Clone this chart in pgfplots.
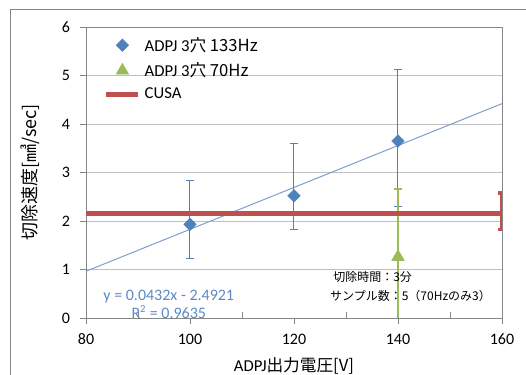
\documentclass[border=0pt]{standalone}
\usepackage{fontspec}
\setmainfont{Carlito}
\newfontfamily\jp{Noto Sans CJK JP}
\usepackage{pgfplots}
\pgfplotsset{compat=1.18}
\definecolor{xblue}{HTML}{4F81BD}
\definecolor{xgreen}{HTML}{9BBB59}
\definecolor{xred}{HTML}{C0504D}
\definecolor{axisgray}{HTML}{868686}
\definecolor{gridgray}{HTML}{BFBFBF}
\definecolor{trendtxt}{HTML}{5B8AC6}
\begin{document}
\begin{tikzpicture}
\draw[axisgray, line width=0.75pt] (-56.25pt,-60pt) -- (-56.25pt,231pt) -- (340pt,231pt);
\begin{axis}[
  scale only axis, width=312pt, height=218.25pt,
  xmin=80, xmax=160, ymin=0, ymax=6,
  xtick={80,100,...,160}, ytick={0,1,...,6},
  extra x ticks={90,110,130,150}, extra x tick labels={},
  extra x tick style={tick align=inside, grid=none},
  axis line style={draw=axisgray},
  tick style={draw=axisgray, line width=0.6pt},
  tick align=outside, major tick length=4.5pt,
  xtick pos=bottom, ytick pos=left,
  ymajorgrids, grid style={gridgray, line width=0.6pt},
  /pgf/number format/assume math mode=true,
  tick label style={font=\fontsize{12}{14}\selectfont},
  xticklabel style={yshift=-4pt},
  yticklabel style={xshift=-4pt},
  xlabel={ADPJ\jp{出力電圧}[V]},
  ylabel={\jp{切除速度}[\jp{㎣}/sec]},
  xlabel style={at={(axis description cs:0.5,-0.165)}, anchor=center, font=\fontsize{12.5}{14}\selectfont},
  ylabel style={at={(axis description cs:-0.135,0.5)}, anchor=center, font=\fontsize{13.5}{15}\selectfont},
  legend image code/.code={\draw[mark repeat=2,mark phase=2,#1] plot coordinates {(0pt,0pt)(12pt,0pt)(24pt,0pt)};},
  legend style={at={(axis description cs:0.043,0.975)}, anchor=north west, draw=none, fill=none,
    font=\fontsize{12.5}{14}\selectfont, row sep=3pt, inner sep=0pt,
    /tikz/every odd column/.append style={column sep=1pt}},
  legend cell align=left,
]
% trendline
\addplot[xblue!75, line width=0.75pt, forget plot] coordinates {(80,0.9639) (160,4.4199)};
% CUSA error bar at 160
\addplot[draw=none, forget plot, error bars/.cd, y dir=both, y explicit,
  error bar style={xred, line width=3pt},
  error mark options={xred, rotate=90, mark size=3pt, line width=2.5pt}]
  coordinates {(160,2.15) += (0,0.43) -= (0,0.33)};
% ADPJ 133Hz
\addplot[only marks, mark=square*, mark size=3.3pt, mark options={xblue, rotate=45},
  error bars/.cd, y dir=both, y explicit,
  error bar style={xblue, line width=0.75pt},
  error mark options={xblue, rotate=90, mark size=3pt, line width=0.75pt}]
  coordinates {
    (100,1.93) += (0,0.90) -= (0,0.71)
    (120,2.52) += (0,1.07) -= (0,0.70)
    (140,3.65) += (0,1.48) -= (0,1.36)
  };
\addlegendentry{ADPJ 3\jp{穴} 133Hz}
% ADPJ 70Hz
\addplot[only marks, mark=triangle*, mark size=5.4pt, mark options={xgreen},
  error bars/.cd, y dir=both, y explicit,
  error bar style={xgreen, line width=1.6pt},
  error mark options={xgreen, rotate=90, mark size=3pt, line width=1.2pt}]
  coordinates {
    (140,1.26) += (0,1.40) -= (0,1.40)
  };
\addlegendentry{ADPJ 3\jp{穴} 70Hz}
% CUSA
\addplot[xred, line width=3.4pt] coordinates {(80,2.15) (160,2.15)};
\addlegendentry{CUSA}
\node[anchor=west, text=trendtxt, font=\fontsize{12}{14}\selectfont, inner sep=0pt] at (axis cs:83.3,0.45) {y = 0.0432x - 2.4921};
\node[anchor=west, text=trendtxt, font=\fontsize{12}{14}\selectfont, inner sep=0pt] at (axis cs:88.7,0.12) {R\textsuperscript{2} = 0.9635};
\node[anchor=west, font=\jp\fontsize{9}{11}\selectfont, inner sep=0pt] at (axis cs:127.5,0.85) {切除時間：3分};
\node[anchor=west, font=\jp\fontsize{9}{11}\selectfont, inner sep=0pt] at (axis cs:126.9,0.45) {サンプル数：5（70Hzのみ3）};
\end{axis}
\pgfresetboundingbox
\useasboundingbox (-64.5pt,-42.75pt) rectangle (330pt,238.5pt);
\end{tikzpicture}
\end{document}
